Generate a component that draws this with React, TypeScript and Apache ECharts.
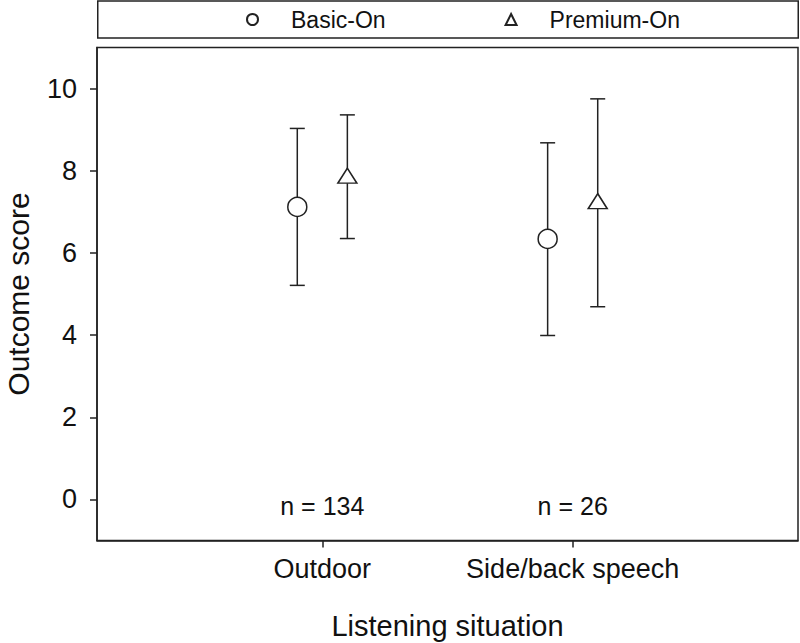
import React, { useEffect, useRef } from "react";
import * as echarts from "echarts";

const categories = ["Outdoor", "Side/back speech"];
const seriesNames = ["Basic-On", "Premium-On"];
const basicMean = [7.12, 6.34];
const basicLow = [5.21, 3.99];
const basicHigh = [9.03, 8.68];
const premiumMean = [7.88, 7.26];
const premiumLow = [6.35, 4.69];
const premiumHigh = [9.36, 9.75];
const nLabels = ["n = 134", "n = 26"];
const yTicks = [0, 2, 4, 6, 8, 10];

const FONT = "'Liberation Sans', Arial, Helvetica, sans-serif";
const INK = "#222";
const DODGE = 0.1;
const N_LABEL_Y = -0.15;

export default function App() {
  const ref = useRef<HTMLDivElement>(null);
  useEffect(() => {
    if (!ref.current) return;
    const chart = echarts.init(ref.current, null, { renderer: "svg" });
    const catX = categories.map((_, i) => i + 1);

    const errSeries = (name: string, low: number[], high: number[], off: number) => ({
      type: "custom",
      name: name + " SD",
      z: 2,
      silent: true,
      data: catX.map((x, i) => [x + off, low[i], high[i]]),
      encode: { x: 0, y: [1, 2] },
      renderItem: (params: any, api: any) => {
        const x = api.value(0);
        const p1 = api.coord([x, api.value(1)]);
        const p2 = api.coord([x, api.value(2)]);
        const hw = 7.5;
        const style = { stroke: INK, lineWidth: 1.5, fill: "none" };
        return {
          type: "group",
          children: [
            { type: "line", shape: { x1: p1[0], y1: p1[1], x2: p2[0], y2: p2[1] }, style },
            { type: "line", shape: { x1: p1[0] - hw, y1: p1[1], x2: p1[0] + hw, y2: p1[1] }, style },
            { type: "line", shape: { x1: p2[0] - hw, y1: p2[1], x2: p2[0] + hw, y2: p2[1] }, style },
          ],
        };
      },
    });

    const option: any = {
      animation: false,
      graphic: [
        {
          type: "rect",
          silent: true,
          shape: { x: 97.75, y: 1, width: 700.5, height: 37 },
          style: { fill: "none", stroke: INK, lineWidth: 1.5 },
        },
      ],
      legend: {
        top: 8,
        left: 246,
        padding: 0,
        itemWidth: 11,
        itemHeight: 11,
        itemGap: 119,
        textStyle: { fontSize: 23, fontFamily: FONT, color: "#111", padding: [0, 0, 0, 28] },
        data: [
          { name: seriesNames[0], icon: "circle" },
          { name: seriesNames[1], icon: "triangle" },
        ],
      },
      grid: {
        left: 97,
        right: 2,
        top: 47.5,
        bottom: 102.5,
        containLabel: false,
        outerBoundsMode: "none",
        show: true,
        borderColor: INK,
        borderWidth: 1.5,
      },
      xAxis: {
        type: "value",
        min: 0.1,
        max: 2.9,
        splitLine: { show: false },
        axisLine: { show: true, onZero: false, lineStyle: { color: INK, width: 1.5 } },
        axisTick: { show: true, customValues: catX, length: 7, lineStyle: { color: INK, width: 1.5 } },
        axisLabel: {
          customValues: catX,
          formatter: (v: number) => categories[Math.round(v) - 1] ?? "",
          fontSize: 27,
          fontFamily: FONT,
          color: "#111",
          margin: 15,
        },
        name: "Listening situation",
        nameLocation: "middle",
        nameGap: 71,
        nameTextStyle: { fontSize: 29, fontFamily: FONT, color: "#111" },
      },
      yAxis: {
        type: "value",
        min: -1,
        max: 11,
        splitLine: { show: false },
        axisLine: { show: true, onZero: false, lineStyle: { color: INK, width: 1.5 } },
        axisTick: { show: true, customValues: yTicks, length: 7, lineStyle: { color: INK, width: 1.5 } },
        axisLabel: {
          customValues: yTicks,
          fontSize: 27,
          fontFamily: FONT,
          color: "#111",
          margin: 20,
        },
        name: "Outcome score",
        nameLocation: "middle",
        nameGap: 64,
        nameTextStyle: { fontSize: 30, fontFamily: FONT, color: "#111" },
      },
      series: [
        errSeries(seriesNames[0], basicLow, basicHigh, -DODGE),
        errSeries(seriesNames[1], premiumLow, premiumHigh, DODGE),
        {
          type: "scatter",
          name: seriesNames[0],
          z: 5,
          symbol: "circle",
          symbolSize: 19,
          itemStyle: { color: "#fff", borderColor: INK, borderWidth: 1.5, opacity: 1 },
          data: catX.map((x, i) => [x - DODGE, basicMean[i]]),
        },
        {
          type: "scatter",
          name: seriesNames[1],
          z: 5,
          symbol: "triangle",
          symbolSize: [19, 15],
          itemStyle: { color: "#fff", borderColor: INK, borderWidth: 1.5, opacity: 1 },
          data: catX.map((x, i) => [x + DODGE, premiumMean[i]]),
        },
        {
          type: "custom",
          name: "n",
          silent: true,
          data: catX.map((x, i) => [x, N_LABEL_Y, i]),
          encode: { x: 0, y: 1 },
          renderItem: (params: any, api: any) => {
            const p = api.coord([api.value(0), api.value(1)]);
            return {
              type: "text",
              x: p[0],
              y: p[1],
              style: {
                text: nLabels[api.value(2)],
                fontSize: 25,
                fontFamily: FONT,
                fill: "#111",
                align: "center",
                verticalAlign: "middle",
              },
            };
          },
        },
      ],
    };
    chart.setOption(option);
    return () => chart.dispose();
  }, []);
  return (
    <div
      ref={ref}
      style={{ position: "fixed", left: 0, top: 0, width: 800, height: 643, background: "#fff" }}
    />
  );
}
